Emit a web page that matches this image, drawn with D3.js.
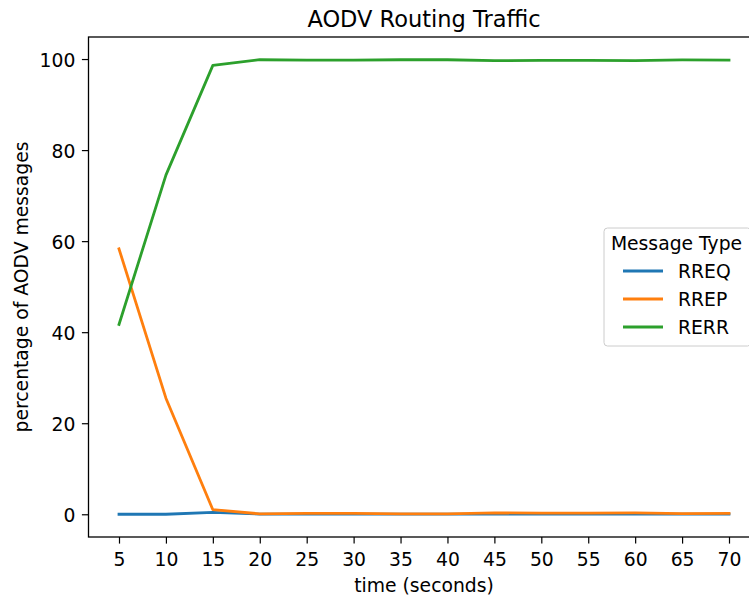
<!DOCTYPE html>
<html>
<head>
<meta charset="utf-8">
<script src="https://cdn.jsdelivr.net/npm/d3@7"></script>
<style>
  body { margin: 0; background: #fff; }
  text { font-family: "DejaVu Sans", sans-serif; fill: #000; }
</style>
</head>
<body>
<div id="chart"></div>
<script>
// data
var times = [5, 10, 15, 20, 25, 30, 35, 40, 45, 50, 55, 60, 65, 70];
var rreq = [0.0, 0.0, 0.4, 0.05, 0.05, 0.05, 0.05, 0.05, 0.05, 0.05, 0.05, 0.05, 0.05, 0.05];
var rrep = [58.3, 25.5, 1.0, 0.1, 0.2, 0.2, 0.1, 0.1, 0.3, 0.25, 0.25, 0.3, 0.15, 0.2];
var rerr = [41.7, 74.5, 98.6, 99.85, 99.75, 99.75, 99.85, 99.85, 99.65, 99.7, 99.7, 99.65, 99.8, 99.75];
var seriesNames = ["RREQ", "RREP", "RERR"];
var colors = ["#1f77b4", "#ff7f0e", "#2ca02c"];
var yTicks = [0, 20, 40, 60, 80, 100];

var W = 749, H = 598;
// plot box (window.top is reserved, so prefix these)
var pLeft = 88.5, pRight = 759.5, pTop = 37, pBottom = 537;
var fs = 18.75;

var svg = d3.select("#chart").append("svg")
  .attr("width", W)
  .attr("height", H);

var series = [rreq, rrep, rerr];

// matplotlib-ish 5% margins
var xpad = (d3.max(times) - d3.min(times)) * 0.05;
var allY = [].concat(rreq, rrep, rerr);
var ymin = d3.min(allY), ymax = d3.max(allY);
var ypad = (ymax - ymin) * 0.05;

var x = d3.scaleLinear()
  .domain([d3.min(times) - xpad, d3.max(times) + xpad])
  .range([pLeft, pRight]);
var y = d3.scaleLinear()
  .domain([ymin - ypad, ymax + ypad])
  .range([pBottom, pTop]);

var xaxis = d3.axisBottom(x).tickValues(times).tickSize(6.6).tickPadding(9).tickFormat(d3.format("d"));
var yaxis = d3.axisLeft(y).tickValues(yTicks).tickSize(6.6).tickPadding(6.5).tickFormat(d3.format("d"));

var gx = svg.append("g")
  .attr("transform", "translate(0," + pBottom + ")")
  .call(xaxis);
var gy = svg.append("g")
  .attr("transform", "translate(" + pLeft + ",0)")
  .call(yaxis);

[gx, gy].forEach(function(g){
  g.select(".domain").remove();
  g.selectAll(".tick line").attr("stroke", "#000").attr("stroke-width", 1.2);
  g.selectAll(".tick text").style("font-size", fs + "px").attr("fill", "#000");
});
gy.selectAll(".tick text").attr("dy", "0.4em");

var line = d3.line()
  .x(function(d, i){ return x(times[i]); })
  .y(function(d){ return y(d); });

for (var j = 0; j < series.length; j++) {
  svg.append("path")
    .datum(series[j])
    .attr("d", line)
    .attr("fill", "none")
    .attr("stroke", colors[j])
    .attr("stroke-width", 2.8)
    .attr("stroke-linejoin", "round")
    .attr("stroke-linecap", "square");
}

// frame
svg.append("rect")
  .attr("x", pLeft).attr("y", pTop)
  .attr("width", pRight - pLeft).attr("height", pBottom - pTop)
  .attr("fill", "none")
  .attr("stroke", "#000")
  .attr("stroke-width", 1.3);

// title and labels
svg.append("text")
  .attr("x", (pLeft + pRight) / 2).attr("y", 27)
  .attr("text-anchor", "middle")
  .style("font-size", "22.5px")
  .text("AODV Routing Traffic");

svg.append("text")
  .attr("x", (pLeft + pRight) / 2).attr("y", 592)
  .attr("text-anchor", "middle")
  .style("font-size", fs + "px")
  .text("time (seconds)");

svg.append("text")
  .attr("transform", "translate(28," + ((pTop + pBottom) / 2) + ") rotate(-90)")
  .attr("text-anchor", "middle")
  .style("font-size", fs + "px")
  .text("percentage of AODV messages");

// legend, center right
var lg = svg.append("g");
lg.append("rect")
  .attr("x", 604).attr("y", 228)
  .attr("width", 147).attr("height", 118)
  .attr("rx", 3.5)
  .attr("fill", "#fff").attr("fill-opacity", 0.8)
  .attr("stroke", "#ccc").attr("stroke-width", 1);
lg.append("text")
  .attr("x", 676.5).attr("y", 250)
  .attr("text-anchor", "middle")
  .style("font-size", fs + "px")
  .text("Message Type");

seriesNames.forEach(function(name, i){
  var cy = 271 + i * 28;
  lg.append("line")
    .attr("x1", 623).attr("x2", 663)
    .attr("y1", cy).attr("y2", cy)
    .attr("stroke", colors[i]).attr("stroke-width", 2.8);
  lg.append("text")
    .attr("x", 678).attr("y", cy + 7)
    .style("font-size", fs + "px")
    .text(name);
});
</script>
</body>
</html>
